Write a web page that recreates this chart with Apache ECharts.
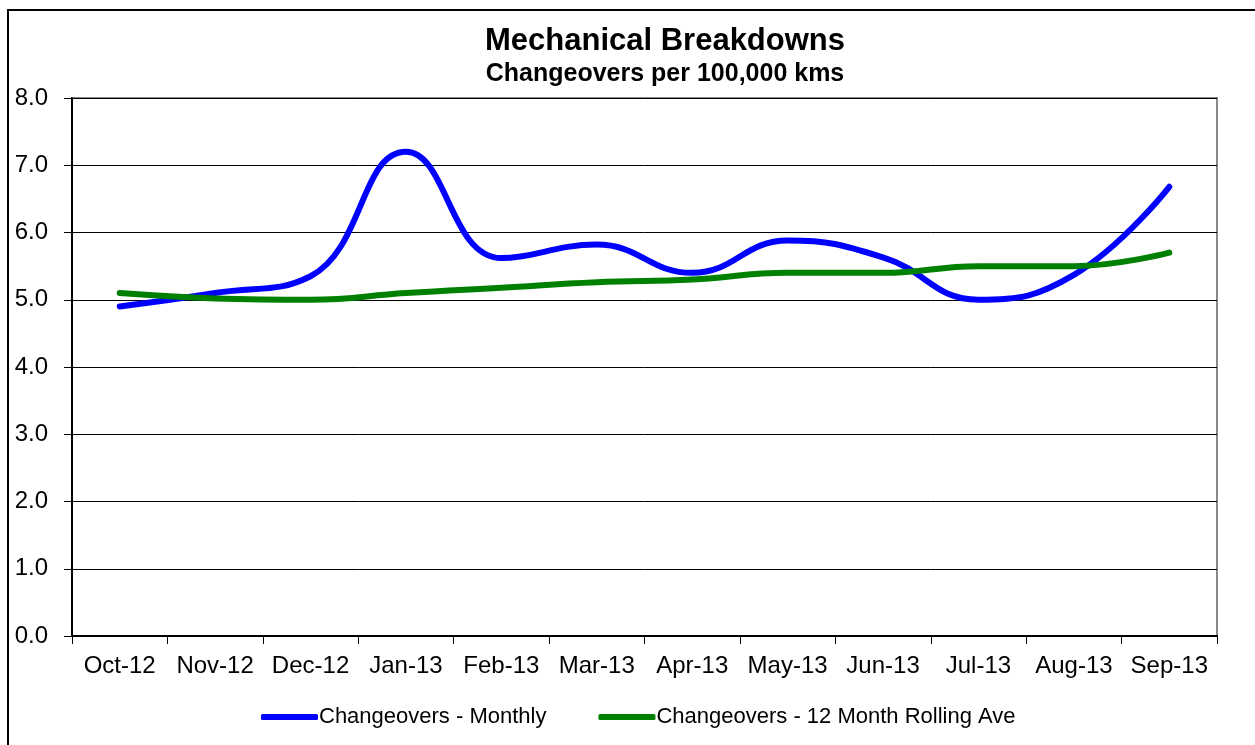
<!DOCTYPE html>
<html>
<head>
<meta charset="utf-8">
<script src="https://cdn.jsdelivr.net/npm/echarts@6/dist/echarts.min.js"></script>
<style>
  html, body { margin: 0; padding: 0; background: #fff; }
  #chart { width: 1255px; height: 745px; }
</style>
</head>
<body>
<div id="chart"></div>
<script>
const months = ['Oct-12', 'Nov-12', 'Dec-12', 'Jan-13', 'Feb-13', 'Mar-13',
  'Apr-13', 'May-13', 'Jun-13', 'Jul-13', 'Aug-13', 'Sep-13'];
const monthly = [4.9, 5.1, 5.35, 7.2, 5.62, 5.82, 5.4, 5.88, 5.63, 5.0, 5.37, 6.68];
const rolling = [5.1, 5.02, 5.0, 5.1, 5.18, 5.26, 5.3, 5.4, 5.4, 5.5, 5.5, 5.7];
const yTicks = [0, 8, 1]; // min, max, step

const font = 'Liberation Sans, Arial, sans-serif';
const chart = echarts.init(document.getElementById('chart'));

const option = {
  backgroundColor: '#fff',
  animation: false,
  title: {
    text: 'Mechanical Breakdowns',
    subtext: 'Changeovers per 100,000 kms',
    left: 660,
    top: 21,
    textAlign: 'center',
    itemGap: 5,
    textStyle: { fontFamily: font, fontSize: 31, fontWeight: 'bold', color: '#000' },
    subtextStyle: { fontFamily: font, fontSize: 25, fontWeight: 'bold', color: '#000' }
  },
  legend: {
    bottom: 12,
    left: 256,
    itemWidth: 57,
    itemHeight: 6,
    itemGap: 52,
    icon: 'roundRect',
    textStyle: { fontFamily: font, fontSize: 22, color: '#000', padding: [0, 0, 0, -4] },
    data: ['Changeovers - Monthly', 'Changeovers - 12 Month Rolling Ave']
  },
  grid: {
    left: 72,
    right: 38,
    top: 98,
    bottom: 109,
    show: true,
    borderColor: '#888',
    borderWidth: 2
  },
  xAxis: {
    type: 'category',
    data: months,
    boundaryGap: true,
    axisLine: { lineStyle: { color: '#000', width: 2 } },
    axisTick: { show: true, length: 8, lineStyle: { color: '#000', width: 1 } },
    axisLabel: { fontFamily: font, fontSize: 24, color: '#000', margin: 18, interval: 0 }
  },
  yAxis: {
    type: 'value',
    min: yTicks[0],
    max: yTicks[1],
    interval: yTicks[2],
    axisLine: { show: true, lineStyle: { color: '#000', width: 2 } },
    axisTick: { show: true, length: 8, lineStyle: { color: '#000', width: 1 } },
    axisLabel: {
      fontFamily: font, fontSize: 24, color: '#000', margin: 24,
      formatter: (v) => v.toFixed(1)
    },
    splitLine: { lineStyle: { color: '#000', width: 1 } }
  },
  graphic: [{
    type: 'rect',
    shape: { x: 8, y: 10, width: 1400, height: 900 },
    style: { fill: 'none', stroke: '#000', lineWidth: 2 },
    silent: true
  }],
  series: [
    {
      name: 'Changeovers - Monthly',
      type: 'line',
      data: monthly,
      smooth: 0.45,
      showSymbol: false,
      symbol: 'none',
      color: '#0000ff',
      lineStyle: { color: '#0000ff', width: 6, cap: 'round' }
    },
    {
      name: 'Changeovers - 12 Month Rolling Ave',
      type: 'line',
      data: rolling,
      smooth: 0.45,
      showSymbol: false,
      symbol: 'none',
      color: '#008000',
      lineStyle: { color: '#008000', width: 6, cap: 'round' }
    }
  ]
};

chart.setOption(option);
</script>
</body>
</html>
